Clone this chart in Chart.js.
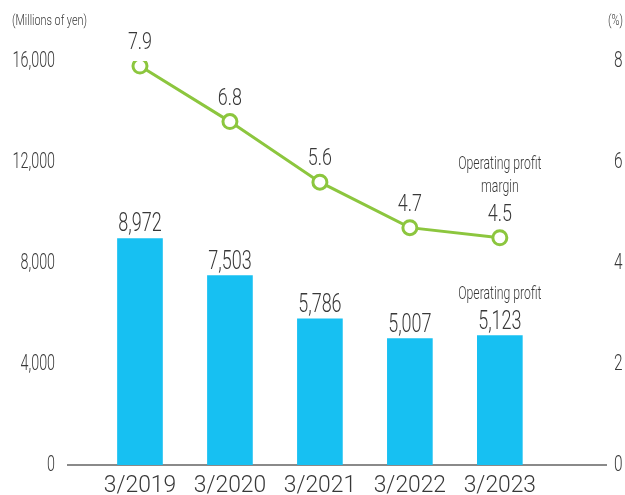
<!DOCTYPE html>
<html>
<head>
<meta charset="utf-8">
<script src="https://cdn.jsdelivr.net/npm/chart.js@4/dist/chart.umd.min.js"></script>
<style>
  html, body { margin: 0; padding: 0; background: #fff; }
  #wrap { width: 625px; height: 495px; }
</style>
</head>
<body>
<div id="wrap"><canvas id="profit-chart" width="625" height="495"></canvas></div>
<script>
const categories = ['3/2019', '3/2020', '3/2021', '3/2022', '3/2023'];
const operatingProfit = [8972, 7503, 5786, 5007, 5123];
const profitMargin = [7.9, 6.8, 5.6, 4.7, 4.5];
const profitTicks = [0, 4000, 8000, 12000, 16000];
const marginTicks = [0, 2, 4, 6, 8];

const FONT = 'Roboto, "Liberation Sans", sans-serif';
const BLUE = '#17c0f2';
const GREEN = '#8cc63e';
const INK = '#383838';

// canvas text, squeezed horizontally to get the condensed look
function drawText(ctx, s, x, y, size, align, baseline, sx) {
  ctx.save();
  ctx.translate(x, y);
  ctx.scale(sx, 1);
  ctx.font = '300 ' + size + 'px ' + FONT;
  ctx.fillStyle = INK;
  ctx.textAlign = align;
  ctx.textBaseline = baseline;
  ctx.fillText(s, 0, 0);
  ctx.restore();
}

const textPlugin = {
  id: 'texts',
  afterDraw(chart) {
    const ctx = chart.ctx;
    const { x, y, y2 } = chart.scales;

    y.ticks.forEach(t => {
      drawText(ctx, t.value.toLocaleString('en-US'), 55, y.getPixelForValue(t.value), 22, 'right', 'middle', 0.65);
    });
    y2.ticks.forEach(t => {
      drawText(ctx, String(t.value), 614, y2.getPixelForValue(t.value), 22, 'left', 'middle', 0.7);
    });
    x.ticks.forEach(t => {
      drawText(ctx, categories[t.value], x.getPixelForValue(t.value), 492, 24, 'center', 'alphabetic', 0.95);
    });

    chart.getDatasetMeta(0).data.forEach((bar, i) => {
      drawText(ctx, operatingProfit[i].toLocaleString('en-US'), bar.x, bar.y - 7, 25, 'center', 'alphabetic', 0.72);
    });
    chart.getDatasetMeta(1).data.forEach((pt, i) => {
      drawText(ctx, profitMargin[i].toFixed(1), pt.x, pt.y - 17, 23, 'center', 'alphabetic', 0.78);
    });

    const last = x.getPixelForValue(categories.length - 1);
    drawText(ctx, 'Operating profit', last, 168.5, 18, 'center', 'alphabetic', 0.68);
    drawText(ctx, 'margin', last, 192, 18, 'center', 'alphabetic', 0.68);
    drawText(ctx, 'Operating profit', last, 298.5, 18, 'center', 'alphabetic', 0.68);

    drawText(ctx, '(Millions of yen)', 12, 21, 15, 'left', 'middle', 0.72);
    drawText(ctx, '(%)', 623, 21, 15, 'right', 'middle', 0.72);
  }
};

const ctx = document.getElementById('profit-chart').getContext('2d');
new Chart(ctx, {
  type: 'bar',
  data: {
    datasets: [{
      type: 'bar',
      label: 'Operating profit',
      data: operatingProfit.map((v, i) => ({ x: i, y: v })),
      backgroundColor: BLUE,
      barThickness: 45,
      yAxisID: 'y',
      order: 1
    }, {
      type: 'line',
      label: 'Operating profit margin',
      data: profitMargin.map((v, i) => ({ x: i, y: v })),
      borderColor: GREEN,
      borderWidth: 3,
      pointRadius: 7,
      pointBorderWidth: 3,
      pointBackgroundColor: '#fff',
      pointBorderColor: GREEN,
      tension: 0,
      yAxisID: 'y2',
      order: 0
    }]
  },
  options: {
    responsive: false,
    animation: false,
    layout: { padding: { top: 61, left: 0, right: 0, bottom: 0 } },
    plugins: { legend: { display: false }, tooltip: { enabled: false } },
    scales: {
      x: {
        type: 'linear',
        offset: false,
        min: -0.8,
        max: 5.18,
        grid: { display: false, offset: false },
        border: { display: true, color: '#8a8a8a', width: 2 },
        ticks: { display: false },
        afterBuildTicks: s => { s.ticks = categories.map((_, i) => ({ value: i })); },
        afterFit: s => { s.height = 30; }
      },
      y: {
        position: 'left',
        min: 0,
        max: 16000,
        grid: { display: false },
        border: { display: false },
        ticks: { display: false },
        afterBuildTicks: s => { s.ticks = profitTicks.map(v => ({ value: v })); },
        afterFit: s => { s.width = 68; }
      },
      y2: {
        position: 'right',
        min: 0,
        max: 8,
        grid: { display: false },
        border: { display: false },
        ticks: { display: false },
        afterBuildTicks: s => { s.ticks = marginTicks.map(v => ({ value: v })); },
        afterFit: s => { s.width = 19; }
      }
    }
  },
  plugins: [textPlugin]
});
</script>
</body>
</html>
